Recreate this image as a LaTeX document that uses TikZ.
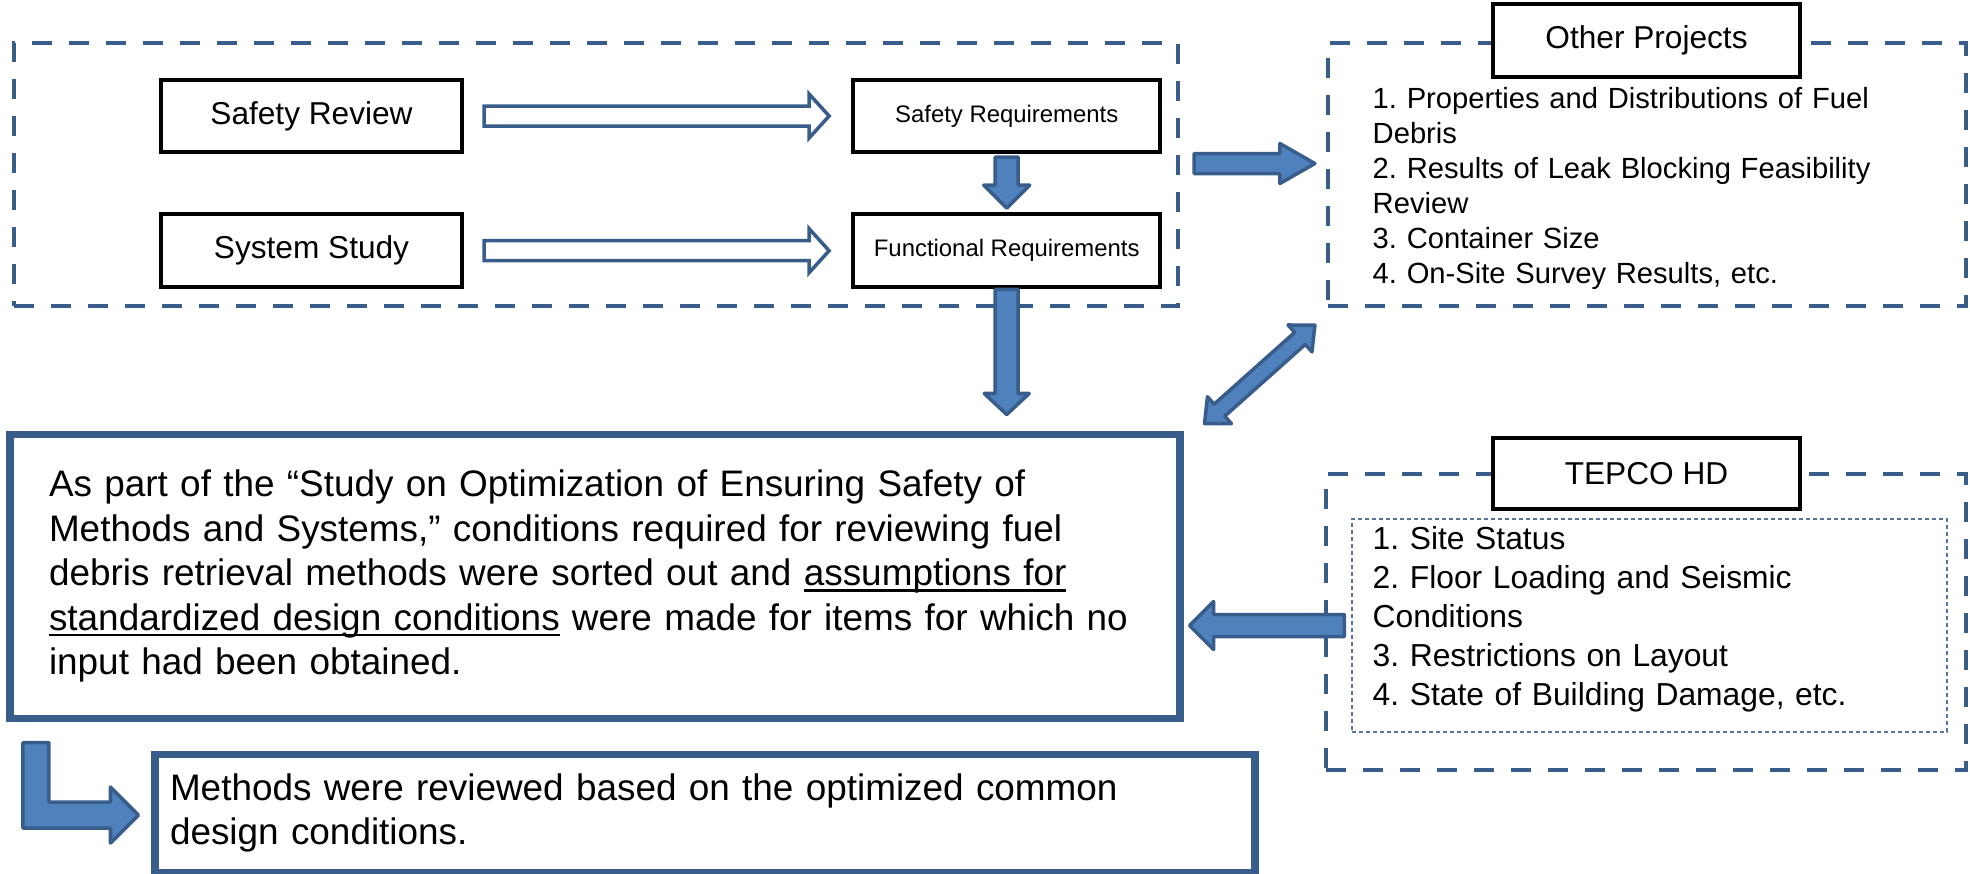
\documentclass[tikz,border=0pt]{standalone}
\usepackage{fontspec}
\setmainfont{Liberation Sans}
\usepackage{xcolor}
\usepackage{tikz}
\usetikzlibrary{arrows.meta, positioning, calc}
\definecolor{dashblue}{RGB}{56,93,138}
\definecolor{arrowblue}{RGB}{79,129,189}
\frenchspacing

% underline close to the baseline
\newcommand{\uln}[1]{\leavevmode\setbox0\hbox{#1}\rlap{\rule[-1.7pt]{\wd0}{0.6pt}}\box0\relax}

% block arrow: [style]{from}{to}{half shaft}{half head}{head length}
\newcommand{\fatarrow}[6][]{%
  \path (#2) coordinate (fa-s) (#3) coordinate (fa-e);
  \coordinate (fa-m) at ($(fa-e)!#6!(fa-s)$);
  \draw[#1] ($(fa-s)!#4!90:(fa-e)$) -- ($(fa-m)!#4!90:(fa-e)$) -- ($(fa-m)!#5!90:(fa-e)$) -- (fa-e)
    -- ($(fa-m)!#5!-90:(fa-e)$) -- ($(fa-m)!#4!-90:(fa-e)$) -- ($(fa-s)!#4!-90:(fa-e)$) -- cycle;}
\newcommand{\fatdarrow}[6][]{%
  \path (#2) coordinate (fa-s) (#3) coordinate (fa-e);
  \coordinate (fa-m) at ($(fa-e)!#6!(fa-s)$);
  \coordinate (fa-n) at ($(fa-s)!#6!(fa-e)$);
  \draw[#1] (fa-s) -- ($(fa-n)!#5!90:(fa-e)$) -- ($(fa-n)!#4!90:(fa-e)$) -- ($(fa-m)!#4!90:(fa-e)$)
    -- ($(fa-m)!#5!90:(fa-e)$) -- (fa-e) -- ($(fa-m)!#5!-90:(fa-e)$) -- ($(fa-m)!#4!-90:(fa-e)$)
    -- ($(fa-n)!#4!-90:(fa-e)$) -- ($(fa-n)!#5!-90:(fa-e)$) -- cycle;}

\begin{document}
\begin{tikzpicture}[x=0.1mm, y=-0.1mm, >=Stealth]
  \tikzstyle{plainbox} = [rectangle, draw=black, line width=1.2pt, fill=white, text centered, inner sep=0pt]
  \tikzstyle{groupbox} = [rectangle, draw=dashblue, line width=1.2pt, dash pattern=on 2mm off 1.7mm, inner sep=0pt]
  \tikzstyle{notebox} = [rectangle, draw=dashblue, line width=2pt, fill=white, align=left, inner sep=0pt]
  \tikzstyle{listtext} = [anchor=base west, inner sep=0pt, text width=5.6cm, align=left]
  \tikzstyle{hollow} = [draw=dashblue, fill=white, line width=1pt]
  \tikzstyle{bluearrow} = [draw=dashblue, fill=arrowblue, line width=1pt, line join=round]

  \useasboundingbox (0,0) rectangle (1970,873);

  % requirements group
  \node [groupbox, minimum width=11.64cm, minimum height=2.63cm] (study) at (596,174.5) {};
  \node [plainbox, minimum width=3.01cm, minimum height=0.72cm, font=\fontsize{9}{10.8}\selectfont] (srev) at (311.5,116) {Safety Review};
  \node [plainbox, minimum width=3.01cm, minimum height=0.73cm, font=\fontsize{9}{10.8}\selectfont, below=0.58cm of srev] (sstudy) {System Study};
  \node [plainbox, minimum width=3.07cm, minimum height=0.72cm, font=\fontsize{6.8}{8}\selectfont, right=3.87cm of srev] (sreq) {Safety Requirements};
  \node [plainbox, minimum width=3.07cm, minimum height=0.73cm, font=\fontsize{6.8}{8}\selectfont, below=0.58cm of sreq] (freq) {Functional Requirements};

  % other projects
  \node [groupbox, minimum width=6.38cm, minimum height=2.63cm] (others) at (1647,174.5) {};
  \node [plainbox, minimum width=3.07cm, minimum height=0.73cm, font=\fontsize{9}{10.8}\selectfont] (otitle) at (1646.5,40.5) {Other Projects};
  \node [listtext, font=\fontsize{8.3}{10}\selectfont] (olist) at (1372,108) {1. Properties and Distributions of Fuel\\Debris\\2. Results of Leak Blocking Feasibility\\Review\\3. Container Size\\4. On-Site Survey Results, etc.};

  % tepco
  \node [groupbox, minimum width=6.40cm, minimum height=2.96cm] (tepco) at (1646,622) {};
  \node [rectangle, draw=dashblue!85, line width=0.4pt, dash pattern=on 0.4mm off 0.3mm, minimum width=5.95cm, minimum height=2.13cm, inner sep=0pt] (tinner) at (1649.5,625.5) {};
  \node [plainbox, minimum width=3.07cm, minimum height=0.71cm, font=\fontsize{9}{10.8}\selectfont] (ttitle) at (1646.5,473.5) {TEPCO HD};
  \node [listtext, font=\fontsize{9.05}{11.1}\selectfont] (tlist) at (1372,549) {1. Site Status\\2. Floor Loading and Seismic\\Conditions\\3. Restrictions on Layout\\4. State of Building Damage, etc.};

  % study text and result
  \node [notebox, minimum width=11.7cm, minimum height=2.84cm, text width=10.92cm, font=\fontsize{10.5}{12.65}\selectfont] (textbox) at (595,576) {As part of the “Study on Optimization of Ensuring Safety of\\Methods and Systems,” conditions required for reviewing fuel\\debris retrieval methods were sorted out and \uln{assumptions for}\\\uln{standardized design conditions} were made for items for which no\\input had been obtained.};
  \node [notebox, minimum width=11cm, minimum height=1.18cm, text width=10.7cm, font=\fontsize{10.5}{12.3}\selectfont] (result) at (705,813) {Methods were reviewed based on the optimized common\\design conditions.};

  \fatarrow[hollow]{$(srev.east)+(20,0)$}{$(sreq.west)+(-22,0)$}{1mm}{2.2mm}{2mm}
  \fatarrow[hollow]{$(sstudy.east)+(20,0)$}{$(freq.west)+(-22,0)$}{1mm}{2.2mm}{2mm}
  \fatarrow[bluearrow]{$(sreq.south)+(0,3)$}{$(freq.north)+(0,-4)$}{1.15mm}{2.3mm}{2.3mm}
  \fatarrow[bluearrow]{freq.south}{$(freq.south |- textbox.north)+(0,-16)$}{1.15mm}{2.25mm}{2.1mm}
  \fatarrow[bluearrow]{$(study.east)+(14,-11)$}{$(others.west)+(-11,-11)$}{1mm}{2mm}{3.5mm}
  \fatdarrow[bluearrow]{$(textbox.north east)+(21,-7)$}{$(others.south west)+(-11,17)$}{0.8mm}{1.8mm}{2mm}
  \fatarrow[bluearrow]{$(tinner.west)+(-7,0)$}{$(textbox.east |- tinner.west)+(6,0)$}{1.1mm}{2.4mm}{2.4mm}

  \coordinate (bendtop) at ($(textbox.south west)+(29.5,21)$);
  \coordinate (bendtip) at ($(result.west)+(-13,2)$);
  \draw[bluearrow] ($(bendtop)+(-13,0)$) -- ($(bendtop)+(13,0)$) -- ($(bendtop |- bendtip)+(13,-13)$)
    -- ($(bendtip)+(-28,-13)$) -- ($(bendtip)+(-28,-28)$) -- (bendtip) -- ($(bendtip)+(-28,28)$)
    -- ($(bendtip)+(-28,13)$) -- ($(bendtop |- bendtip)+(-13,13)$) -- cycle;
\end{tikzpicture}
\end{document}
